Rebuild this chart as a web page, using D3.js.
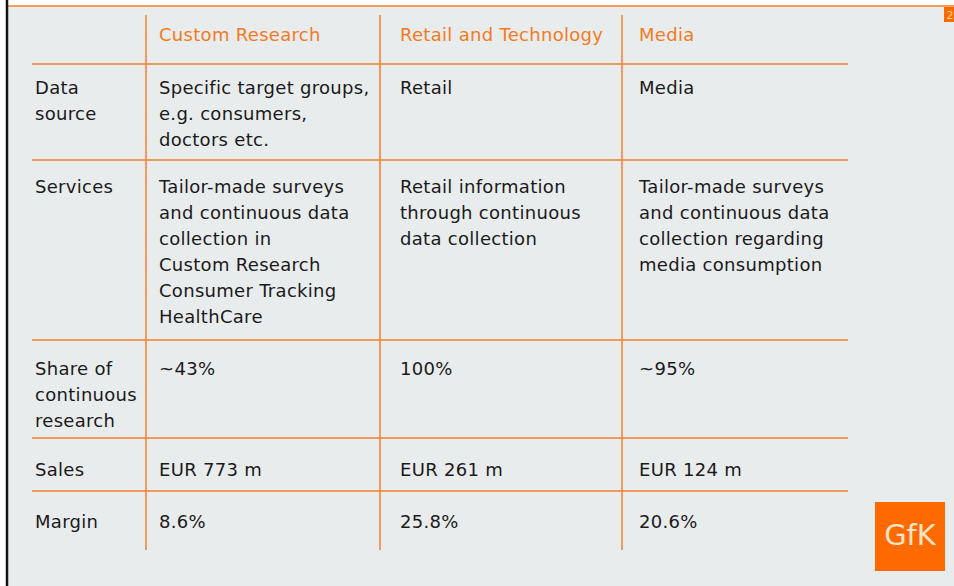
<!DOCTYPE html>
<html>
<head>
  <meta charset="utf-8">
  <title>GfK sectors</title>
  <script src="https://d3js.org/d3.v7.min.js"></script>
  <style>
  body { margin: 0; background: white; }
  .cell { font-family: "DejaVu Sans", Verdana, sans-serif; font-size: 18px; fill: #1a1a1a; letter-spacing: 0.3px; }
  .head { font-family: "DejaVu Sans", Verdana, sans-serif; font-size: 18px; fill: #f47a22; letter-spacing: 0.3px; }
  .rule { stroke: #f57f2a; stroke-width: 1.5px; }
  </style>
</head>
<body>
  <svg id="slide" width="954" height="586"></svg>
  <script>
  // table content
  const columns = ["Custom Research", "Retail and Technology", "Media"];
  const rowLabels = [["Data", "source"], ["Services"], ["Share of", "continuous", "research"], ["Sales"], ["Margin"]];
  const customResearch = [
    ["Specific target groups,", "e.g. consumers,", "doctors etc."],
    ["Tailor-made surveys", "and continuous data", "collection in", "Custom Research", "Consumer Tracking", "HealthCare"],
    ["~43%"],
    ["EUR 773 m"],
    ["8.6%"]
  ];
  const retailTech = [
    ["Retail"],
    ["Retail information", "through continuous", "data collection"],
    ["100%"],
    ["EUR 261 m"],
    ["25.8%"]
  ];
  const media = [
    ["Media"],
    ["Tailor-made surveys", "and continuous data", "collection regarding", "media consumption"],
    ["~95%"],
    ["EUR 124 m"],
    ["20.6%"]
  ];
  const pageNumber = "2";

  const svg = d3.select("#slide");
  const width = +svg.attr("width"), height = +svg.attr("height");

  // background + frame
  svg.append("rect").attr("x", 7).attr("y", 6).attr("width", width - 7).attr("height", height - 6).attr("fill", "#e9eced");
  svg.append("line").attr("x1", 7).attr("x2", width).attr("y1", 6).attr("y2", 6)
    .attr("stroke", "#f89a58").attr("stroke-width", 2);
  svg.append("line").attr("x1", 7).attr("x2", 7).attr("y1", 0).attr("y2", height)
    .attr("stroke", "#111").attr("stroke-width", 2.5);

  // page number
  svg.append("rect").attr("x", 944).attr("y", 7).attr("width", 10).attr("height", 15).attr("fill", "#ff6a00");
  svg.append("text").attr("x", 950).attr("y", 19).attr("font-family", "DejaVu Sans").attr("font-size", 11)
    .attr("fill", "#f7d9b8").attr("text-anchor", "middle").text(pageNumber);

  // layout scales
  const colKeys = ["label", ...columns];
  const x = d3.scaleOrdinal().domain(colKeys).range([35, 159, 400, 639]);
  const divider = d3.scaleOrdinal().domain(columns).range([146, 380, 622]);
  const rowKeys = d3.range(rowLabels.length);
  const rowTop = d3.scaleOrdinal().domain(rowKeys).range([64, 160, 340, 438, 491]);
  const firstBase = d3.scaleOrdinal().domain(rowKeys).range([94, 193, 375, 476, 528]);
  const lineH = 26;

  const g = svg.append("g");

  // rules
  g.selectAll(".hrule").data(rowKeys).enter().append("line")
    .attr("class", "rule hrule")
    .attr("x1", 32).attr("x2", 848)
    .attr("y1", d => rowTop(d)).attr("y2", d => rowTop(d));
  g.selectAll(".vrule").data(columns).enter().append("line")
    .attr("class", "rule vrule")
    .attr("x1", d => divider(d)).attr("x2", d => divider(d))
    .attr("y1", 15).attr("y2", 550);

  // header
  g.selectAll(".head").data(columns).enter().append("text")
    .attr("class", "head")
    .attr("x", d => x(d)).attr("y", 41)
    .text(d => d);

  // cells
  const cols = [rowLabels, customResearch, retailTech, media];
  cols.forEach((col, ci) => {
    col.forEach((lines, ri) => {
      const t = g.append("text").attr("class", "cell")
        .attr("x", x(colKeys[ci])).attr("y", firstBase(ri));
      t.selectAll("tspan").data(lines).enter().append("tspan")
        .attr("x", x(colKeys[ci]))
        .attr("y", (d, i) => firstBase(ri) + i * lineH)
        .text(d => d);
    });
  });

  // logo
  svg.append("rect").attr("x", 875).attr("y", 502).attr("width", 70).attr("height", 69).attr("fill", "#ff6a00");
  svg.append("text").attr("x", 910).attr("y", 545).attr("text-anchor", "middle")
    .attr("font-family", "DejaVu Sans").attr("font-size", 29).attr("fill", "#f8e4c8")
    .text("GfK");
  </script>
</body>
</html>
